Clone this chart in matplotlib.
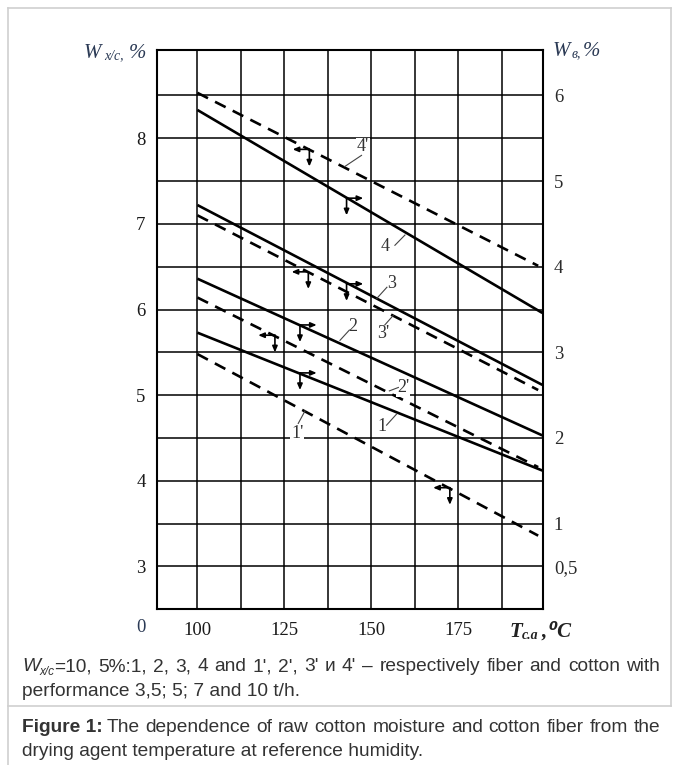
import matplotlib
matplotlib.use('Agg')
import matplotlib.pyplot as plt
from matplotlib.lines import Line2D

# figure size in pixels
W, H = 679, 765

# temperature of the drying agent, start and end of every line
t_start = 100
t_end_solid = 199.2
t_end_dash = 198.0

# solid lines 1..4 (fiber), dashed lines 1'..4' (raw cotton), left-axis units
solid_names = ['1', '2', '3', '4']
solid_start = [5.73, 6.36, 7.22, 8.33]
solid_end = [4.12, 4.53, 5.12, 5.96]
dash_names = ["1'", "2'", "3'", "4'"]
dash_start = [5.48, 6.14, 7.10, 8.53]
dash_end = [3.36, 4.16, 5.06, 6.51]

# tick labels
x_ticks = [100, 125, 150, 175]
left_ticks = [3, 4, 5, 6, 7, 8]
right_ticks = [0.5, 1, 2, 3, 4, 5, 6]
right_labels = ['0,5', '1', '2', '3', '4', '5', '6']

# small corner arrows drawn on the chart: corner (x, y) and horizontal direction
mark_x = [132.2, 142.9, 131.9, 142.9, 122.3, 129.5, 129.5, 172.6]
mark_y = [7.87, 7.30, 6.44, 6.30, 5.70, 5.82, 5.26, 3.92]
mark_dir = [-1, 1, -1, 1, -1, 1, 1, -1]

# curve labels: text position and leader line (from, to)
lab_text = ["4'", '4', '3', '2', "3'", "2'", '1', "1'"]
lab_pos = [(147.6, 7.90), (153.9, 6.73), (155.9, 6.30), (144.8, 5.80),
           (153.4, 5.72), (159.2, 5.09), (153.2, 4.64), (128.7, 4.55)]
lead_a = [(147.2, 7.80), (156.8, 6.75), (154.5, 6.26), (143.7, 5.76),
          (153.9, 5.82), (157.8, 5.09), (154.4, 4.65), (129.0, 4.67)]
lead_b = [(142.4, 7.67), (159.7, 6.87), (151.6, 6.13), (141.0, 5.64),
          (156.3, 5.93), (155.2, 5.05), (157.3, 4.78), (131.0, 4.82)]


def fx(px):
    return px / W


def fy(py):
    return 1 - py / H


serif = ['Liberation Serif', 'DejaVu Sans']
sans = 'Liberation Sans'

fig = plt.figure(figsize=(W / 100, H / 100), dpi=100)
fig.patch.set_facecolor('white')

ax = fig.add_axes([fx(156.7), fy(609.3), fx(542.7) - fx(156.7), fy(50) - fy(609.3)])
ax.set_xlim(88.3, 199.3)
ax.set_ylim(2.5, 9.03)

# grid every 12.5 deg and every 0.5 %
ax.set_xticks(x_ticks)
ax.set_xticks([112.5, 137.5, 162.5, 187.5], minor=True)
ax.set_yticks(left_ticks)
ax.set_yticks([3.5, 4.5, 5.5, 6.5, 7.5, 8.5], minor=True)
ax.grid(True, which='both', color='k', lw=1.1)
ax.set_axisbelow(True)
ax.tick_params(which='both', length=0)
ax.tick_params(axis='x', pad=9, labelsize=13.5, labelcolor='#1a1a1a')
ax.tick_params(axis='y', pad=8, labelsize=13.5, labelcolor='#1a1a1a')
for lab in ax.get_xticklabels() + ax.get_yticklabels():
    lab.set_fontfamily(serif)
for s in ax.spines.values():
    s.set_linewidth(1.5)

ax2 = ax.twinx()
ax2.set_ylim(0, 6.53)
ax2.set_yticks(right_ticks)
ax2.set_yticklabels(right_labels, fontfamily=serif, fontsize=13.5, color='#2a2a2a')
ax2.tick_params(length=0, pad=8)
for s in ax2.spines.values():
    s.set_visible(False)

# lines
for a, b in zip(solid_start, solid_end):
    ax.plot([t_start, t_end_solid], [a, b], color='k', lw=1.9, solid_capstyle='butt', zorder=3)
for a, b in zip(dash_start, dash_end):
    ax.plot([t_start, t_end_dash], [a, b], color='k', lw=1.9, dashes=(4.5, 3.0), zorder=3)

# corner arrows
arr = dict(arrowstyle='-|>,head_length=0.35,head_width=0.15', color='k', lw=1.2,
           shrinkA=0, shrinkB=0)
for x, y, d in zip(mark_x, mark_y, mark_dir):
    ax.annotate('', xy=(x + d * 4.8, y), xytext=(x, y), arrowprops=arr, zorder=4)
    ax.annotate('', xy=(x, y - 0.2), xytext=(x, y), arrowprops=arr, zorder=4)

# labels with leaders
for txt, p, a, b in zip(lab_text, lab_pos, lead_a, lead_b):
    ax.text(p[0], p[1], txt, fontfamily=serif, fontsize=13, color='#333333',
            ha='center', va='center', zorder=5,
            bbox=dict(facecolor='white', edgecolor='none', pad=0.5))
    ax.plot([a[0], b[0]], [a[1], b[1]], color='#444444', lw=0.8, zorder=5)

# axis titles
navy = '#2b3a55'
fig.text(fx(84), fy(58), 'W', fontfamily=serif, style='italic', fontsize=15, color=navy)
fig.text(fx(104), fy(59), 'х/с,', fontfamily=serif, style='italic', fontsize=10, color=navy)
fig.text(fx(129), fy(58), '%', fontfamily=serif, style='italic', fontsize=15, color=navy)
fig.text(fx(553), fy(56), 'W', fontfamily=serif, style='italic', fontsize=15, color=navy)
fig.text(fx(572), fy(57), 'в,', fontfamily=serif, style='italic', fontsize=10, color=navy)
fig.text(fx(583), fy(56), '%', fontfamily=serif, style='italic', fontsize=15, color=navy)
fig.text(fx(141), fy(628), '0', fontfamily=serif, fontsize=13.5, ha='center', va='center', color=navy)
xl = dict(fontfamily=serif, style='italic', weight='bold', color='#222222')
fig.text(fx(509), fy(637), 'T', fontsize=15, **xl)
fig.text(fx(522), fy(639), 'с.а', fontsize=10, **xl)
fig.text(fx(541), fy(637), ',', fontsize=15, **xl)
fig.text(fx(549), fy(637), '⁰C', fontsize=15, **xl)

# frame around the figure
frame = dict(color='#cfcfcf', lw=1.2)
fig.add_artist(Line2D([fx(8), fx(8)], [fy(8), fy(765)], **frame))
fig.add_artist(Line2D([fx(8), fx(671)], [fy(8), fy(8)], **frame))
fig.add_artist(Line2D([fx(671), fx(671)], [fy(8), fy(706)], **frame))
fig.add_artist(Line2D([fx(8), fx(671)], [fy(706), fy(706)], **frame))

renderer = fig.canvas.get_renderer()


def justify(words, x0, x1, y, **kw):
    texts = [fig.text(fx(x0), fy(y), w, **kw) for w in words]
    widths = [t.get_window_extent(renderer).width for t in texts]
    gap = (x1 - x0 - sum(widths)) / (len(words) - 1)
    x = x0
    for t, w in zip(texts, widths):
        t.set_x(fx(x))
        x += w + gap


cap = dict(fontfamily=sans, fontsize=13.8, color='#333333', va='baseline')
fig.text(fx(22), fy(671), 'W', style='italic', **cap)
fig.text(fx(39), fy(675), 'x/c', style='italic', fontfamily=sans, fontsize=8.5, color='#333333')
justify("=10, 5%:1, 2, 3, 4 and 1', 2', 3' и 4' – respectively fiber and cotton with".split(' '),
        54, 660, 671, **cap)
fig.text(fx(22), fy(696), 'performance 3,5; 5; 7 and 10 t/h.', **cap)
fig.text(fx(22), fy(732), 'Figure 1:', weight='bold', **cap)
w_fig = fig.texts[-1].get_window_extent(renderer).width
justify('The dependence of raw cotton moisture and cotton fiber from the'.split(' '),
        22 + w_fig + 4, 660, 732, **cap)
fig.text(fx(22), fy(756), 'drying agent temperature at reference humidity.', **cap)

fig.savefig('out.png', dpi=100)
